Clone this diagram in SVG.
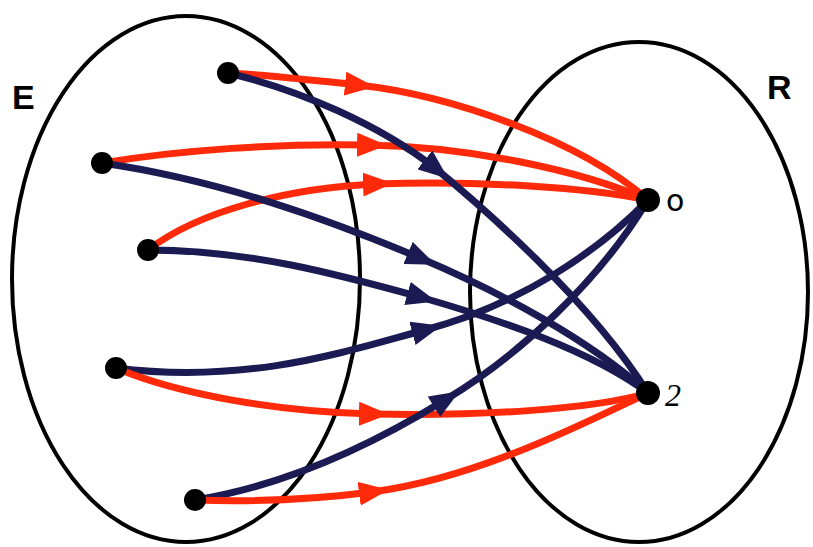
<svg xmlns="http://www.w3.org/2000/svg" width="813" height="547" viewBox="0 0 813 547">
<style>
.set{fill:none;stroke:#000;stroke-width:4}
.red{fill:none;stroke:#ff2a0a;stroke-width:7;stroke-linecap:round;marker-mid:url(#ar)}
.blue{fill:none;stroke:#1c1a52;stroke-width:7;stroke-linecap:round;marker-mid:url(#ab)}
.dot{fill:#000}
.lbl{font-family:"Liberation Sans",Arial,sans-serif;font-weight:bold;font-size:34px;fill:#000}
.el{font-family:"DejaVu Sans","Liberation Sans",sans-serif;font-size:30px;fill:#000}
.el2{font-family:"Liberation Serif","Times New Roman",serif;font-style:italic;font-size:32px;fill:#000}
</style>
<defs>
<marker id="ar" viewBox="0 0 30 24" refX="13" refY="12" markerWidth="30" markerHeight="24" markerUnits="userSpaceOnUse" orient="auto">
<path d="M0,0 L30,12 L0,24 Z" fill="#ff2a0a"/>
</marker>
<marker id="ab" viewBox="0 0 30 24" refX="13" refY="12" markerWidth="30" markerHeight="24" markerUnits="userSpaceOnUse" orient="auto">
<path d="M0,0 L30,12 L0,24 Z" fill="#1c1a52"/>
</marker>
</defs>
<rect width="813" height="547" fill="#fff"/>
<g id="set-E">
<ellipse class="set" cx="186" cy="279" rx="174" ry="263"/>
<text class="lbl" x="12" y="109">E</text>
</g>
<g id="set-R">
<ellipse class="set" cx="639" cy="292" rx="169" ry="250"/>
<text class="lbl" x="767" y="99">R</text>
</g>
<g id="connectors">
<path class="red" d="M228,73 C270,75 310,80 358,85 C450,95 580,140 648,200"/>
<path class="red" d="M102,163 C180,150 280,143 370,145 C470,147 580,170 648,200"/>
<path class="red" d="M148,250 C200,210 290,188 376,184 C480,180 590,188 648,200"/>
<path class="blue" d="M228,73 C300,90 380,125 435,168 C480,205 590,300 648,393"/>
<path class="blue" d="M102,163 C220,180 330,220 420,258 C500,292 590,340 648,393"/>
<path class="blue" d="M148,250 C250,250 340,275 420,297 C500,320 590,350 648,393"/>
<path class="blue" d="M116,368 C250,385 350,350 425,330 C520,305 600,250 648,200"/>
<path class="red" d="M116,368 C180,395 280,412 372,414 C480,416 590,410 648,393"/>
<path class="blue" d="M195,500 C290,485 380,440 445,400 C520,355 600,280 648,200"/>
<path class="red" d="M195,500 C250,502 310,500 372,492 C480,478 590,420 648,393"/>
</g>
<g id="e1"><circle class="dot" cx="228" cy="73" r="11"/></g>
<g id="e2"><circle class="dot" cx="102" cy="163" r="11"/></g>
<g id="e3"><circle class="dot" cx="148" cy="250" r="11"/></g>
<g id="e4"><circle class="dot" cx="116" cy="368" r="11"/></g>
<g id="e5"><circle class="dot" cx="195" cy="500" r="11"/></g>
<g id="r0"><circle class="dot" cx="648" cy="200" r="12"/><text class="el" x="666" y="211">o</text></g>
<g id="r2"><circle class="dot" cx="648" cy="393" r="12"/><text class="el2" x="665" y="406">2</text></g>
</svg>
